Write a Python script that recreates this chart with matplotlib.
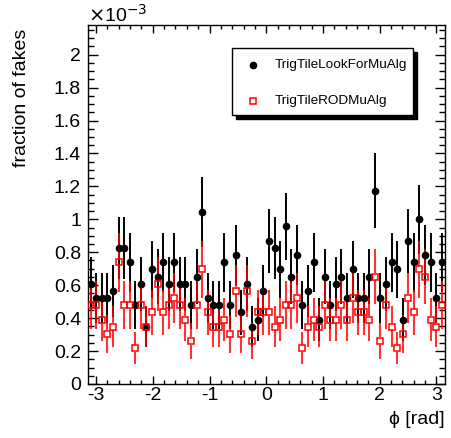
import numpy as np
import matplotlib
matplotlib.use('Agg')
import matplotlib.pyplot as plt
from matplotlib.patches import Rectangle
from matplotlib.lines import Line2D
from matplotlib.ticker import MultipleLocator, FuncFormatter

plt.rcParams['font.family'] = ['Liberation Sans', 'DejaVu Sans']
plt.rcParams['axes.unicode_minus'] = False

# fake counts per phi bin (64 bins over [-pi, pi])
n_look = [14, 12, 12, 12, 13, 19, 19, 17, 11, 14, 8,
          16, 15, 17, 14, 17, 14, 14, 11, 15, 24, 12,
          11, 11, 17, 11, 18, 10, 14, 8, 9, 13, 20,
          19, 16, 22, 15, 18, 11, 13, 17, 9, 15,
          11, 14, 15, 12, 16, 12, 12, 15, 27, 12, 14,
          17, 16, 9, 20, 17, 23, 18, 17, 12, 17]
n_rod = [11, 11, 9, 7, 8, 17, 11, 11, 5, 11, 8,
         10, 14, 10, 11, 12, 11, 9, 6, 11, 16, 10,
         8, 8, 9, 7, 13, 7, 13, 6, 10, 10, 10,
         8, 9, 11, 11, 12, 5, 8, 9, 8, 11,
         9, 9, 11, 9, 12, 10, 10, 9, 15, 6, 11,
         8, 5, 7, 12, 10, 16, 15, 9, 8, 11]
per_count = 0.0435  # fraction of fakes per count (x1e-3)

labels = ['TrigTileLookForMuAlg', 'TrigTileRODMuAlg']

phi_edges = np.linspace(-np.pi, np.pi, len(n_look) + 1)
phi = 0.5 * (phi_edges[1:] + phi_edges[:-1])

look = np.array(n_look) * per_count
look_err = np.sqrt(n_look) * per_count
rod = np.array(n_rod) * per_count
rod_err = np.sqrt(n_rod) * per_count

W, H = 451, 438
fig = plt.figure(figsize=(W / 100, H / 100), dpi=100)
ax = fig.add_axes([88 / W, 1 - 384 / H, 356.5 / W, 359 / H])

# black: error bars then dots
ax.vlines(phi, look - look_err, look + look_err, color='black', lw=1.4, zorder=2)
ax.plot(phi, look, 'o', color='black', ms=4.5, zorder=4)

# red: error bars stop at the open square
gap = 0.022
ax.vlines(phi, rod - rod_err, rod - gap, color='red', lw=1.5, alpha=0.8, zorder=3)
ax.vlines(phi, rod + gap, rod + rod_err, color='red', lw=1.5, alpha=0.8, zorder=3)
ax.plot(phi, rod, 's', mfc='none', mec='red', mew=1.1, ms=5.0, zorder=5)

ax.set_xlim(-np.pi, np.pi)
ax.set_ylim(0, 2.18)

ax.xaxis.set_major_locator(MultipleLocator(1))
ax.xaxis.set_minor_locator(MultipleLocator(0.2))
ax.yaxis.set_major_locator(MultipleLocator(0.2))
ax.yaxis.set_minor_locator(MultipleLocator(0.05))
ax.yaxis.set_major_formatter(FuncFormatter(lambda v, p: '%g' % round(v, 2)))
ax.xaxis.set_major_formatter(FuncFormatter(lambda v, p: '%g' % round(v, 2)))

ax.tick_params(which='both', direction='in', top=True, right=True, width=1, labelsize=14)
ax.tick_params(axis='x', which='major', length=5.8, pad=2)
ax.tick_params(axis='x', which='minor', length=2.9)
ax.tick_params(axis='y', which='major', length=7.5, pad=5)
ax.tick_params(axis='y', which='minor', length=4)
for s in ax.spines.values():
    s.set_linewidth(1)

fig.text(88 / W, 1 - 22 / H, r'$\times$10$^{-3}$', fontsize=14, ha='left', va='baseline')
fig.text(22 / W, 1 - 29 / H, 'fraction of fakes', fontsize=14, rotation=90, ha='center', va='top')
fig.text(445 / W, 1 - 419 / H, '\u03d5 [rad]', fontsize=14, ha='right', va='center')

# legend box with ROOT-style shadow
lx0, ly0, lx1, ly1 = 232, 48, 413, 115
fig.add_artist(Rectangle(((lx0 + 4) / W, 1 - (ly1 + 4) / H), (lx1 - lx0) / W, (ly1 - ly0) / H,
                         transform=fig.transFigure, facecolor='black', edgecolor='black', zorder=6))
fig.add_artist(Rectangle((lx0 / W, 1 - ly1 / H), (lx1 - lx0) / W, (ly1 - ly0) / H,
                         transform=fig.transFigure, facecolor='white', edgecolor='black', lw=1, zorder=7))
fig.add_artist(Line2D([253 / W], [1 - 65 / H], marker='o', color='black', ms=4.5,
                      transform=fig.transFigure, zorder=8))
fig.add_artist(Line2D([253 / W], [1 - 101 / H], marker='s', mfc='none', mec='red', mew=1.1, ms=5.0,
                      transform=fig.transFigure, zorder=8))
fig.text(275 / W, 1 - 65 / H, labels[0], fontsize=9.7, ha='left', va='center', zorder=8)
fig.text(275 / W, 1 - 101 / H, labels[1], fontsize=9.7, ha='left', va='center', zorder=8)

fig.savefig('out.png', dpi=100)
